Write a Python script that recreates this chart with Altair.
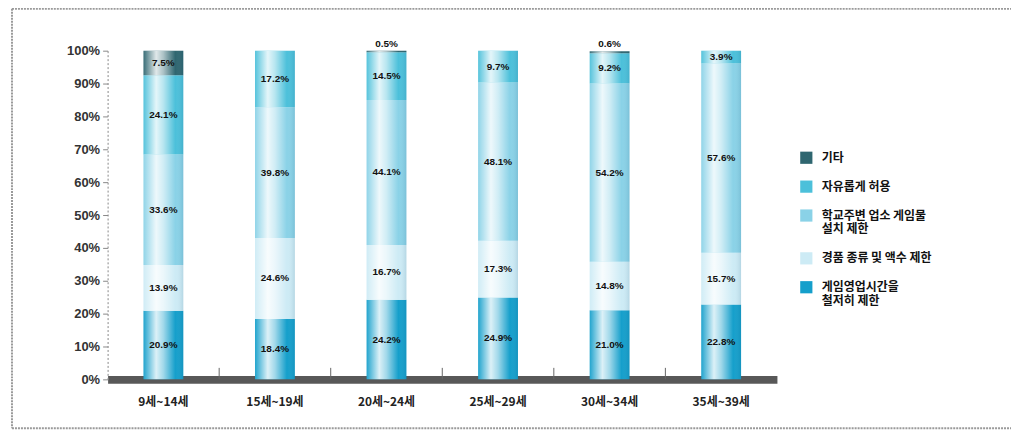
import altair as alt
import pandas as pd

categories = ["9세~14세", "15세~19세", "20세~24세", "25세~29세", "30세~34세", "35세~39세"]

# series, bottom to top in each bar
series_names = [
    "게임영업시간을 철저히 제한",
    "경품 종류 및 액수 제한",
    "학교주변 업소 게임물 설치 제한",
    "자유롭게 허용",
    "기타",
]
game_hours = [20.9, 18.4, 24.2, 24.9, 21.0, 22.8]
prize_limit = [13.9, 24.6, 16.7, 17.3, 14.8, 15.7]
school_area = [33.6, 39.8, 44.1, 48.1, 54.2, 57.6]
free_allow = [24.1, 17.2, 14.5, 9.7, 9.2, 3.9]
other = [7.5, 0.0, 0.5, 0.0, 0.6, 0.0]

legend_order = ["기타", "자유롭게 허용", "학교주변 업소 게임물 설치 제한",
                "경품 종류 및 액수 제한", "게임영업시간을 철저히 제한"]
legend_colors = ["#2f6670", "#4cc0da", "#8ad2e7", "#cdebf5", "#159fcb"]

all_values = [game_hours, prize_limit, school_area, free_allow, other]
rows = []
for i, c in enumerate(categories):
    base = 0.0
    for s, vals in zip(series_names, all_values):
        v = vals[i]
        if v > 0:
            small = v < 2
            rows.append(dict(cat=c, series=s, v=v, y0=base, y1=base + v,
                             ly=(100.0 if small else base + v / 2),
                             small=small, label=f"{v:.1f}%"))
        base += v
df = pd.DataFrame(rows)
tick_df = pd.DataFrame({"cat": categories[1:]})
frame_df = pd.DataFrame({"a": [0]})

x_axis = alt.Axis(title=None, labelAngle=0, ticks=False,
                  labelFont="Noto Sans CJK KR", labelFontSize=12,
                  labelFontWeight="bold", labelColor="#222",
                  labelPadding=17, domainWidth=8, domainColor="#585858")
y_axis = alt.Axis(title=None, values=list(range(0, 101, 10)),
                  labelExpr="datum.value + '%'", grid=False,
                  labelOverlap=False,
                  labelFont="Liberation Sans", labelFontSize=13,
                  labelFontWeight="bold", labelColor="#333",
                  domainDash=[2, 2], domainColor="#888",
                  tickColor="#888", tickSize=5, labelPadding=3)
x_scale = alt.Scale(paddingInner=0, paddingOuter=0)
y_scale = alt.Scale(domain=[0, 100], nice=False)

def xe(**kw):
    return alt.X("cat:N", sort=categories, scale=x_scale, axis=x_axis, **kw)

def ye(field):
    return alt.Y(field, scale=y_scale, axis=y_axis)

frame_style = dict(color="#9a9a9a", strokeWidth=2, strokeDash=[2, 1])
frame_top = alt.Chart(frame_df).mark_rule(**frame_style).encode(
    x=alt.value(-96), x2=alt.value(907), y=alt.value(-42))
frame_left = alt.Chart(frame_df).mark_rule(**frame_style).encode(
    x=alt.value(-96), y=alt.value(-42), y2=alt.value(379))
frame_bottom = alt.Chart(frame_df).mark_rule(**frame_style).encode(
    x=alt.value(-96), x2=alt.value(907), y=alt.value(379))

bars = alt.Chart(df).mark_bar(size=40).encode(
    x=xe(),
    y=ye("y0:Q"),
    y2="y1:Q",
    color=alt.Color("series:N", scale=alt.Scale(domain=legend_order, range=legend_colors),
                    legend=alt.Legend(title=None, orient="none", legendX=695, legendY=101,
                                      symbolType="square", symbolSize=150,
                                      symbolStrokeWidth=0, labelOffset=9,
                                      labelFont="Noto Sans CJK KR", labelFontSize=12,
                                      labelFontWeight="bold", labelColor="#111",
                                      rowPadding=16, labelLimit=200,
                                      labelExpr="datum.label == '학교주변 업소 게임물 설치 제한' ? ['학교주변 업소 게임물', '설치 제한'] : datum.label == '게임영업시간을 철저히 제한' ? ['게임영업시간을', '철저히 제한'] : datum.label")),
)

gloss = alt.Chart(df).mark_bar(size=40, color=alt.Gradient(
    gradient="linear", x1=0, x2=1, y1=0, y2=0,
    stops=[alt.GradientStop(color="rgba(255,255,255,0.05)", offset=0),
           alt.GradientStop(color="rgba(255,255,255,0.85)", offset=0.32),
           alt.GradientStop(color="rgba(255,255,255,0.6)", offset=0.5),
           alt.GradientStop(color="rgba(255,255,255,0.0)", offset=0.8),
           alt.GradientStop(color="rgba(0,60,100,0.12)", offset=1)])).encode(
    x=xe(), y=ye("y0:Q"), y2="y1:Q")

ticks = alt.Chart(tick_df).mark_rule(color="#666", strokeWidth=1).encode(
    x=xe(bandPosition=0),
    y=alt.datum(0, scale=y_scale, axis=y_axis), y2=alt.datum(3.5))

labels_in = alt.Chart(df).transform_filter("!datum.small").mark_text(
    font="Liberation Sans", fontSize=10, fontWeight="bold", color="#111").encode(
    x=xe(), y=ye("ly:Q"), text="label:N")

labels_top = alt.Chart(df).transform_filter("datum.small").mark_text(
    font="Liberation Sans", fontSize=10, fontWeight="bold", color="#111", dy=-7).encode(
    x=xe(), y=ye("ly:Q"), text="label:N")

chart = alt.layer(frame_top, frame_left, frame_bottom, bars, gloss, ticks,
                  labels_in, labels_top).properties(
    width=672, height=330,
    autosize=alt.AutoSizeParams(type="none"),
    padding={"left": 100, "top": 42, "right": 235, "bottom": 52},
).configure(background="white").configure_view(strokeWidth=0)

chart.save("out.html", embed_options={"renderer": "svg", "actions": False})
